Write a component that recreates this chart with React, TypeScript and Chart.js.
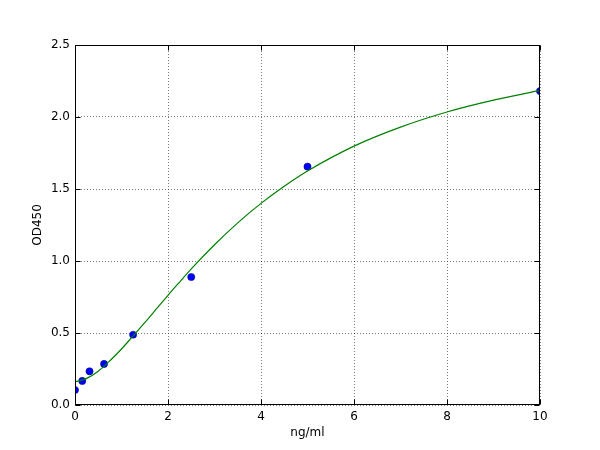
import { useEffect, useRef } from 'react';
import { Chart, registerables } from 'chart.js';

Chart.register(...registerables);

// measured standards (ng/ml vs OD450)
const stdConc = [0, 0.156, 0.3125, 0.625, 1.25, 2.5, 5, 10];
const stdOD = [0.104, 0.167, 0.234, 0.285, 0.488, 0.889, 1.655, 2.18];

// fitted curve
const curveX = [0, 0.25, 0.5, 0.75, 1, 1.25, 1.5, 1.75, 2, 2.25, 2.5, 3, 3.5, 4, 4.5, 5, 6, 7, 8, 9, 10];
const curveY = [0.16, 0.185, 0.235, 0.307, 0.389, 0.48, 0.572, 0.667, 0.762, 0.854, 0.945, 1.113, 1.265, 1.4, 1.519, 1.625, 1.798, 1.93, 2.035, 2.117, 2.185];

const xTicks = [0, 2, 4, 6, 8, 10];
const yTicks = [0, 0.5, 1.0, 1.5, 2.0, 2.5];

const FONT = 'DejaVu Sans';

// matplotlib-style box and inward tick marks
const framePlugin = {
  id: 'frame',
  afterDraw(chart) {
    const { ctx, chartArea: a, scales } = chart;
    const L = Math.round(a.left) + 0.5;
    const R = Math.round(a.right) - 0.5;
    const T = Math.round(a.top) + 0.5;
    const B = Math.round(a.bottom) - 0.5;
    ctx.save();
    ctx.strokeStyle = '#000';
    ctx.lineWidth = 1;
    ctx.beginPath();
    xTicks.forEach(v => {
      const px = Math.round(scales.x.getPixelForValue(v)) + 0.5;
      ctx.moveTo(px, B); ctx.lineTo(px, B - 5);
      ctx.moveTo(px, T); ctx.lineTo(px, T + 5);
    });
    yTicks.forEach(v => {
      const py = Math.round(scales.y.getPixelForValue(v)) + 0.5;
      ctx.moveTo(L, py); ctx.lineTo(L + 5, py);
      ctx.moveTo(R, py); ctx.lineTo(R - 5, py);
    });
    ctx.stroke();
    ctx.strokeRect(L, T, R - L, B - T);
    ctx.restore();
  },
};

export default function App() {
  const canvasRef = useRef(null);
  const chartRef = useRef(null);

  useEffect(() => {
    if (chartRef.current) chartRef.current.destroy();

    chartRef.current = new Chart(canvasRef.current, {
      type: 'scatter',
      data: {
        datasets: [
          {
            label: 'fit',
            data: curveX.map((x, i) => ({ x, y: curveY[i] })),
            showLine: true,
            borderColor: '#008000',
            borderWidth: 1.2,
            pointRadius: 0,
            cubicInterpolationMode: 'monotone',
          },
          {
            label: 'standards',
            data: stdConc.map((x, i) => ({ x, y: stdOD[i] })),
            backgroundColor: '#0000ff',
            borderColor: '#000066',
            borderWidth: 0.5,
            pointRadius: 3.6,
          },
        ],
      },
      options: {
        responsive: false,
        animation: false,
        layout: { padding: { top: 45, right: 60, left: 0, bottom: 0 } },
        scales: {
          x: {
            type: 'linear',
            min: 0,
            max: 10,
            afterFit: (s) => { s.height = 45; },
            afterBuildTicks: (s) => { s.ticks = xTicks.map(value => ({ value })); },
            ticks: {
              padding: 5,
              color: '#000',
              font: { family: FONT, size: 12 },
              callback: (v) => String(v),
            },
            grid: { color: 'rgba(0,0,0,0.65)', lineWidth: 0.8, drawTicks: false },
            border: { display: false, dash: [1, 2] },
            title: { display: true, text: 'ng/ml', color: '#000', font: { family: FONT, size: 12 }, padding: { top: 0, bottom: 10 } },
          },
          y: {
            type: 'linear',
            min: 0,
            max: 2.5,
            afterFit: (s) => { s.width = 75; },
            afterBuildTicks: (s) => { s.ticks = yTicks.map(value => ({ value })); },
            ticks: {
              padding: 5,
              color: '#000',
              font: { family: FONT, size: 12 },
              callback: (v) => Number(v).toFixed(1),
            },
            grid: { color: 'rgba(0,0,0,0.65)', lineWidth: 0.8, drawTicks: false },
            border: { display: false, dash: [1, 2] },
            title: { display: true, text: 'OD450', color: '#000', font: { family: FONT, size: 12 }, padding: { top: 31, bottom: 0 } },
          },
        },
        plugins: {
          legend: { display: false },
          tooltip: { enabled: false },
        },
      },
      plugins: [framePlugin],
    });

    return () => { if (chartRef.current) chartRef.current.destroy(); };
  }, []);

  return (
    <div style={{ position: 'fixed', left: 0, top: 0, width: 600, height: 450, background: '#fff' }}>
      <canvas ref={canvasRef} width={600} height={450} />
    </div>
  );
}
